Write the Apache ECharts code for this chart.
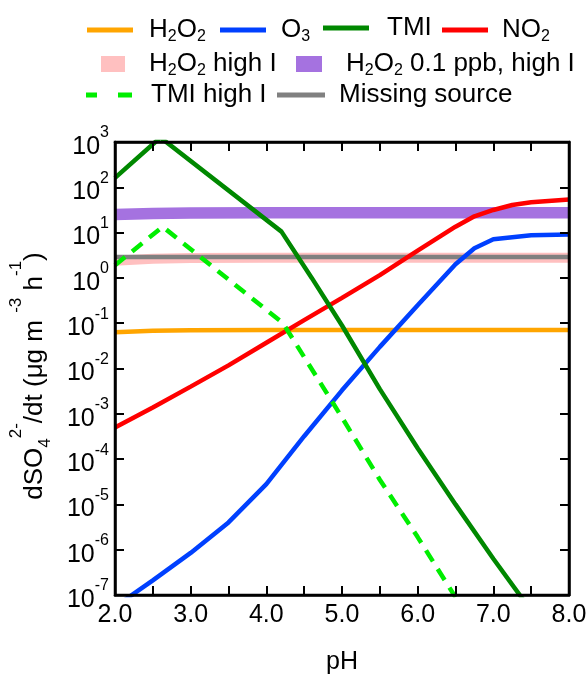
<!DOCTYPE html>
<html>
<head>
<meta charset="utf-8">
<script src="https://cdn.jsdelivr.net/npm/echarts@6/dist/echarts.min.js"></script>
<style>
  html, body { margin: 0; padding: 0; background: #fff; }
  #chart { width: 588px; height: 675px; }
</style>
</head>
<body>
<div id="chart"></div>
<script>
// sulfate production rates (ug m-3 h-1) vs pH
var phH2O2 = [2.0, 2.5, 3.0, 4.0, 8.0];
var valH2O2 = [0.063, 0.068, 0.070, 0.071, 0.071];

var phO3 = [2.0, 2.5, 3.0, 3.5, 4.0, 4.5, 5.0, 5.5, 6.0, 6.5, 6.75, 7.0, 7.5, 8.0];
var valO3 = [5.5e-8, 2.1e-7, 8.5e-7, 4.0e-6, 2.8e-5, 3.2e-4, 3.3e-3, 3.0e-2, 0.25, 2.0, 4.5, 7.1, 8.7, 9.1];

var phTMI = [2.0, 2.6, 4.2, 4.6, 5.0, 5.5, 6.0, 6.5, 7.0, 7.5];
var valTMI = [162, 1260, 10.5, 1.0, 0.089, 3.5e-3, 1.74e-4, 1.0e-5, 6.3e-7, 4.5e-8];

var phNO2 = [2.0, 2.5, 3.0, 3.5, 4.0, 4.5, 5.0, 5.5, 6.0, 6.5, 6.75, 7.0, 7.25, 7.5, 8.0];
var valNO2 = [5.0e-4, 1.38e-3, 3.98e-3, 1.17e-2, 3.7e-2, 0.117, 0.363, 1.15, 3.98, 13.5, 22.9, 31.6, 40.7, 46.8, 53.7];

var phH2O2hi = [2.0, 2.5, 3.0, 4.0, 8.0];
var valH2O2hi = [2.4, 2.65, 2.75, 2.8, 2.8];

var phH2O2low = [2.0, 2.5, 3.0, 4.0, 8.0];
var valH2O2low = [25, 26.5, 27, 27.5, 27.5];

var phTMIhi = [2.0, 2.63, 4.22, 5.0, 5.5, 6.0, 6.5];
var valTMIhi = [1.9, 13.5, 0.1, 8.3e-4, 3.5e-5, 1.9e-6, 8.9e-8];

var phMissing = [2.0, 8.0];
var valMissing = [2.9, 2.9];

// legend names and how they are printed (with subscripts)
var seriesNames = ['H2O2', 'O3', 'TMI', 'NO2', 'H2O2 high I', 'H2O2 0.1 ppb, high I', 'TMI high I', 'Missing source'];
var legendLabels = [
  '{n|H}{s|2}{n|O}{s|2}',
  '{n|O}{s|3}',
  '{n|TMI}',
  '{n|NO}{s|2}',
  '{n|H}{s|2}{n|O}{s|2}{n| high I}',
  '{n|H}{s|2}{n|O}{s|2}{n| 0.1 ppb, high I}',
  '{n|TMI high I}',
  '{n|Missing source}'
];
var yTitle = '{n|dSO}{sub|4}{sup|2-}{n|/dt (μg m }{sup|-3}{n| h}{sup|-1}{n|)}';

var FONT = 'Liberation Sans, Arial, Helvetica, sans-serif';

function pairs(xs, ys) {
  return xs.map(function (x, i) { return [x, ys[i]]; });
}

var chart = echarts.init(document.getElementById('chart'));

var legendRich = {
  n: { fontSize: 26, lineHeight: 30, fontFamily: FONT, color: '#000' },
  s: { fontSize: 16, lineHeight: 16, padding: [14, 0, 0, 0], fontFamily: FONT, color: '#000' }
};

var DASH_ICON = 'path://M0,0H11V5H0Z M32,0H46V5H32Z';

// [icon left, text left, row centre y, icon w, icon h, icon]
var legendPos = [
  [82, 144, 25, 46, 5, 'rect'],
  [215, 276, 25, 46, 5, 'rect'],
  [318, 382, 25, 46, 5, 'rect'],
  [437, 497, 25, 46, 5, 'rect'],
  [96, 144, 59, 24, 16, 'rect'],
  [291, 341, 59, 26, 16, 'rect'],
  [81, 146, 92, 46, 5, DASH_ICON],
  [272, 334, 92, 48, 5, 'rect']
];

var legends = seriesNames.map(function (name, i) {
  var p = legendPos[i];
  return {
    left: p[0],
    top: p[2] - 15,
    orient: 'horizontal',
    selectedMode: false,
    itemWidth: p[3],
    itemHeight: p[4],
    data: [{ name: name, icon: p[5] }],
    formatter: function () { return legendLabels[i]; },
    textStyle: {
      fontSize: 26, fontFamily: FONT, color: '#000',
      padding: [0, 0, 0, p[1] - p[0] - p[3] - 5],
      rich: legendRich
    }
  };
});

// frame axes sit above the curves so the box and ticks stay visible
function frameAxis(extra) {
  var base = {
    z: 10,
    axisLine: { show: true, onZero: false, lineStyle: { color: '#000', width: 2.5 } },
    axisTick: { show: true, inside: true, length: 9, lineStyle: { color: '#000', width: 2 } },
    splitLine: { show: false }
  };
  return Object.assign(base, extra);
}

var option = {
  animation: false,
  legend: legends,
  grid: {
    left: 115, right: 19, top: 142, bottom: 80, outerBoundsMode: 'none',
    show: true, z: 10, borderColor: '#000', borderWidth: 2.5, backgroundColor: 'transparent'
  },
  // rotated y title as a plain text element
  graphic: [{
    type: 'text',
    x: 35,
    y: 376,
    rotation: Math.PI / 2,
    silent: true,
    style: {
      text: yTitle,
      align: 'center',
      verticalAlign: 'middle',
      fill: '#000',
      fontSize: 26,
      fontFamily: FONT,
      rich: {
        n: { fontSize: 26, lineHeight: 26, padding: [17, 0, 17, 0], fontFamily: FONT, fill: '#000' },
        sub: { fontSize: 17, lineHeight: 17, padding: [31.5, 0, 11.5, 0], fontFamily: FONT, fill: '#000' },
        sup: { fontSize: 17, lineHeight: 17, padding: [2.5, 0, 40.5, 0], fontFamily: FONT, fill: '#000' }
      }
    }
  }],
  xAxis: [
    frameAxis({
      type: 'value', min: 2, max: 8, interval: 0.5, position: 'bottom',
      name: 'pH', nameLocation: 'middle', nameGap: 55,
      nameTextStyle: { fontSize: 25, fontFamily: FONT, color: '#000' },
      axisLabel: {
        margin: 8, fontSize: 25, fontFamily: FONT, color: '#000',
        formatter: function (v) { return Math.abs(v - Math.round(v)) < 1e-6 ? v.toFixed(1) : ''; }
      }
    }),
    frameAxis({
      type: 'value', min: 2, max: 8, interval: 0.5, position: 'top',
      axisLabel: { show: false }
    })
  ],
  yAxis: [
    frameAxis({
      type: 'log', logBase: 10, min: 1e-7, max: 1e3, interval: 1, position: 'left',
      axisLabel: {
        margin: 6, fontFamily: FONT, color: '#000',
        formatter: function (v) {
          return '{b|10}{e|' + Math.round(Math.log10(v)) + '}';
        },
        rich: {
          b: { fontSize: 25, lineHeight: 25, padding: [12.5, 0, 2.5, 0], fontFamily: FONT, color: '#000' },
          e: { fontSize: 16, lineHeight: 16, padding: [3, 0, 21, 0], fontFamily: FONT, color: '#000' }
        }
      }
    }),
    frameAxis({
      type: 'log', logBase: 10, min: 1e-7, max: 1e3, interval: 1, position: 'right',
      axisLabel: { show: false }
    })
  ],
  series: [
    {
      name: 'H2O2 high I', type: 'line', showSymbol: false, symbol: 'none',
      color: '#FFC0C0', lineStyle: { width: 10, color: '#FFC0C0' },
      data: pairs(phH2O2hi, valH2O2hi)
    },
    {
      name: 'Missing source', type: 'line', showSymbol: false, symbol: 'none',
      color: '#808080', lineStyle: { width: 4.5, color: '#808080' },
      data: pairs(phMissing, valMissing)
    },
    {
      name: 'H2O2 0.1 ppb, high I', type: 'line', showSymbol: false, symbol: 'none',
      color: '#A572E0', lineStyle: { width: 11.5, color: '#A572E0' },
      data: pairs(phH2O2low, valH2O2low)
    },
    {
      name: 'H2O2', type: 'line', showSymbol: false, symbol: 'none',
      color: '#FFA500', lineStyle: { width: 4.5, color: '#FFA500' },
      data: pairs(phH2O2, valH2O2)
    },
    {
      name: 'O3', type: 'line', showSymbol: false, symbol: 'none',
      color: '#0040FF', lineStyle: { width: 4.5, color: '#0040FF' },
      data: pairs(phO3, valO3)
    },
    {
      name: 'NO2', type: 'line', showSymbol: false, symbol: 'none',
      color: '#FF0000', lineStyle: { width: 4.5, color: '#FF0000' },
      data: pairs(phNO2, valNO2)
    },
    {
      name: 'TMI', type: 'line', showSymbol: false, symbol: 'none',
      color: '#008800', lineStyle: { width: 4.5, color: '#008800' },
      data: pairs(phTMI, valTMI)
    },
    {
      name: 'TMI high I', type: 'line', showSymbol: false, symbol: 'none',
      color: '#00EE00', lineStyle: { width: 4.5, color: '#00EE00', type: [13, 9] },
      data: pairs(phTMIhi, valTMIhi)
    }
  ]
};

chart.setOption(option);
</script>
</body>
</html>
